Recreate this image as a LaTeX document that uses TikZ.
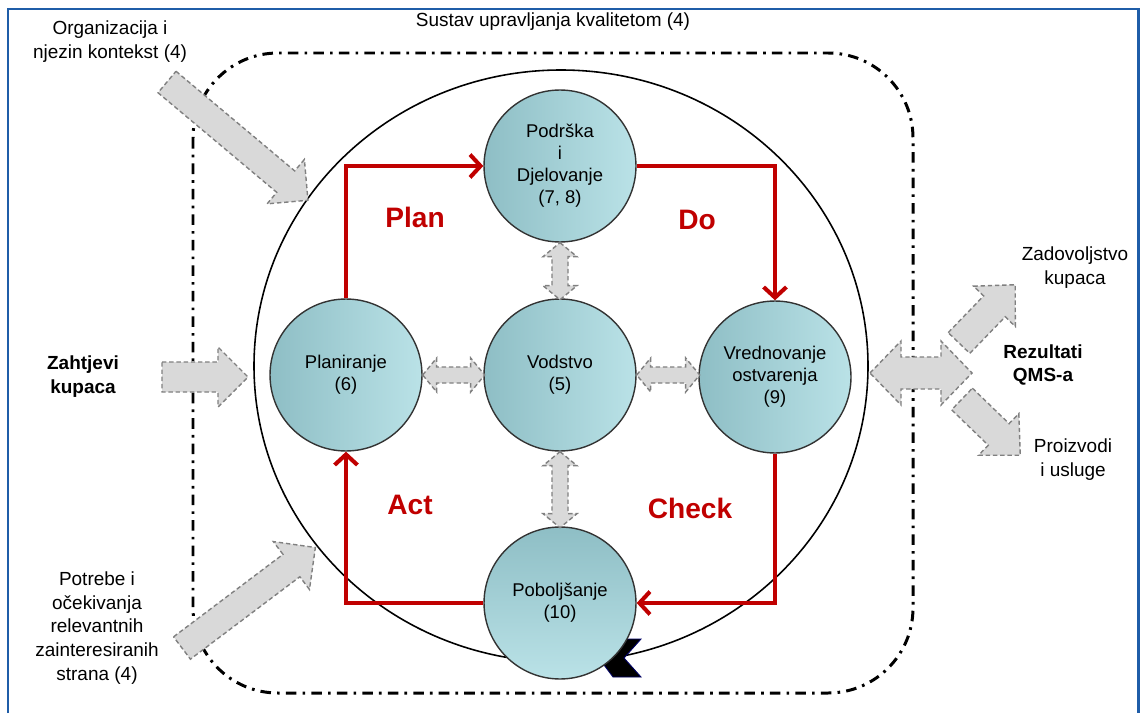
\documentclass[tikz,border=0pt]{standalone}
\usepackage{fontspec}
\setmainfont{Liberation Sans}
\usetikzlibrary{arrows.meta}
\usetikzlibrary{positioning}
\definecolor{pdcared}{HTML}{C00000}
\definecolor{procdark}{HTML}{8EBEC5}
\definecolor{proclight}{HTML}{BAE2E7}
\definecolor{frameblue}{HTML}{1F5DA8}
\tikzset{proc/.style = {circle, draw=black!80, line width=0.8pt, left color=procdark, right color=proclight,
                        minimum size=3.04cm, inner sep=0, align=center, font=\fontsize{10.5}{12.5}\selectfont}}
\tikzset{pdca/.style = {draw=pdcared, line width=2.3pt, -{Straight Barb[length=6pt, width=13pt]}}}
\tikzset{pdcalbl/.style = {text=pdcared, font=\bfseries\fontsize{16}{18}\selectfont}}
\tikzset{lbl/.style = {align=center, font=\fontsize{10.8}{13.6}\selectfont}}
\tikzset{garrow/.style = {draw=black!50, fill=black!15, dash pattern=on 2.5pt off 1.6pt, line width=0.8pt}}
\tikzset{qms/.style = {line width=1.7pt, dash pattern=on 6pt off 3.5pt on 1.5pt off 3.5pt, rounded corners=1.7cm}}
\tikzset{pics/blockarrow/.style args = {#1/#2/#3/#4}{code = {
    \draw [garrow] (0,-#2) -- (#1-#4,-#2) -- (#1-#4,-#3) -- (#1,0) -- (#1-#4,#3) -- (#1-#4,#2) -- (0,#2) -- cycle;}}}
\tikzset{pics/dblarrow/.style args = {#1/#2/#3/#4}{code = {
    \draw [garrow] (0,0) -- (#4,-#3) -- (#4,-#2) -- (#1-#4,-#2) -- (#1-#4,-#3) -- (#1,0)
                   -- (#1-#4,#3) -- (#1-#4,#2) -- (#4,#2) -- (#4,#3) -- cycle;}}}

\begin{document}
\begin{tikzpicture}[x=0.02cm, y=-0.02cm]
    \useasboundingbox (0,0) rectangle (1142,713);
    \draw [draw=frameblue, line width=1.7pt] (8,713) -- (8,9) -- (1138,9) -- (1138,713);

    \draw [qms] (193,53) rectangle (913,693);
    \node [lbl] (title) at (553,22) {Sustav upravljanja kvalitetom (4)};

    \draw [line width=0.9pt] (561,366) ellipse [x radius=307, y radius=296];
    \fill [black, draw=blue!40!black, line width=0.5pt] (598,657) -- (617,639) -- (641,639) -- (624,658) -- (641,677) -- (613,677) -- cycle;

    \node [proc] (support) at (560,166) {Podrška\\i\\Djelovanje\\(7, 8)};
    \node [proc] (plan) at (346,375) {Planiranje\\(6)};
    \node [proc] (lead) at (560,375) {Vodstvo\\(5)};
    \node [proc] (eval) at (775,377) {Vrednovanje\\ostvarenja\\(9)};
    \node [proc, top color=procdark, bottom color=proclight] (improve) at (560,603) {Poboljšanje\\(10)};

    \draw [pdca] (plan.north) |- (support.west);
    \draw [pdca] (support.east) -| (eval.north);
    \draw [pdca] (eval.south) |- (improve.east);
    \draw [pdca] (improve.west) -| (plan.south);

    \node [pdcalbl] (planlbl) at (415,217) {Plan};
    \node [pdcalbl] (dolbl) at (697,220) {Do};
    \node [pdcalbl] (actlbl) at (410,505) {Act};
    \node [pdcalbl] (checklbl) at (690,508) {Check};

    \pic at (plan.east) {dblarrow=62/8/17/14};
    \pic at (lead.east) {dblarrow=63/8/17/14};
    \pic [rotate=-90] at (support.south) {dblarrow=57/8/17/14};
    \pic [rotate=-90] at (lead.south) {dblarrow=76/8/17/14};

    \node [lbl] (org) at (110,42) {Organizacija i\\njezin kontekst (4)};
    \node [lbl, font=\bfseries\fontsize{10.8}{13.6}\selectfont] (req) at (83,377) {Zahtjevi\\kupaca};
    \node [lbl] (needs) at (97,628) {Potrebe i\\očekivanja\\relevantnih\\zainteresiranih\\strana (4)};
    \pic [rotate=-40] at (167,82) {blockarrow=184/14/29/29};
    \pic at (162,377) {blockarrow=86/15/30/30};
    \pic [rotate=37] at (182,648) {blockarrow=167/14/30/30};

    \node [lbl] (satis) at (1075,268) {Zadovoljstvo\\kupaca};
    \node [lbl, font=\bfseries\fontsize{10.8}{13.6}\selectfont] (result) at (1043,365) {Rezultati\\QMS-a};
    \node [lbl] (prod) at (1073,460) {Proizvodi\\i usluge};
    \pic at (870,373) {dblarrow=102/16/32/31};
    \pic [rotate=46] at (959,343) {blockarrow=81/15/29/30};
    \pic [rotate=-44] at (962,399) {blockarrow=81/15/29/30};
\end{tikzpicture}
\end{document}
